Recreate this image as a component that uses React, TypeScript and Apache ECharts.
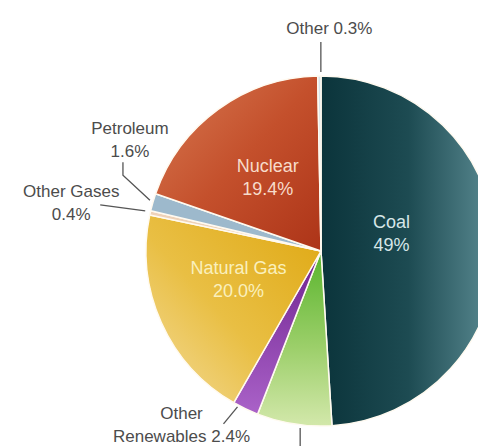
import React, { useEffect, useRef } from 'react';
import * as echarts from 'echarts';

// ---- Data ----
const categories = ['Coal', 'Hydroelectric', 'Other Renewables', 'Natural Gas', 'Other Gases', 'Petroleum', 'Nuclear', 'Other'];
const shares = [49, 6.9, 2.4, 20.0, 0.4, 1.6, 19.4, 0.3];
const labelNames = ['Coal', '', 'Other\nRenewables', 'Natural Gas', 'Other Gases', 'Petroleum', 'Nuclear', 'Other'];
const shareLabels = ['49%', '', '2.4%', '20.0%', '0.4%', '1.6%', '19.4%', '0.3%'];
const nameSeparators = ['\n', '', ' ', '\n', '\n', '\n', '\n', ' '];

// ---- Styling ----
const CX = 321;
const CY = 251;
const R = 175;

const lin = (x: number, y: number, x2: number, y2: number, stops: [number, string][]) =>
  new echarts.graphic.LinearGradient(x, y, x2, y2, stops.map(([offset, color]) => ({ offset, color })));

const sliceColors: any[] = [
  lin(0, 0, 1, 0, [[0, '#0b343b'], [0.5, '#1d4b52'], [1, '#5c8c94']]),
  lin(0, 0, 0, 1, [[0, '#58b42c'], [0.55, '#9ccf6a'], [1, '#d3e8ab']]),
  lin(0, 0, 0, 1, [[0, '#6f2390'], [1, '#aa62c8']]),
  lin(1, 0, 0, 1, [[0, '#dfa812'], [0.55, '#e9bf44'], [1, '#f4dc9c']]),
  '#efd2b8',
  '#9db9cc',
  lin(0, 0, 1, 1, [[0, '#d87a52'], [0.5, '#c4502c'], [1, '#ad3418']]),
  '#d6e5ec',
];

const insideLabels: Record<string, { color: string; offset: number[] }> = {
  Coal: { color: '#d6e6e8', offset: [-20, -15] },
  Nuclear: { color: '#f7dccb', offset: [0, 0] },
  'Natural Gas': { color: '#faf0bd', offset: [0, -8] },
};

// label guide positions, relative to the slice's outer-edge point
const outsideLayout: Record<string, { line: number[][]; label: number[] }> = {
  Other: { line: [[1.5, -4], [1.5, -34]], label: [10, -48] },
  Petroleum: { line: [[-3, -2], [-30, -27], [-30, -40]], label: [-23, -62] },
  'Other Gases': { line: [[-5, -2], [-50, -8]], label: [-79, -10] },
  'Other Renewables': { line: [[-8, -2], [-22, 15]], label: [-64, 16] },
  Hydroelectric: { line: [[6, 4], [6, 40]], label: [6, 40] },
};

const total = shares.reduce((a, b) => a + b, 0);
function edgePoint(i: number): number[] {
  let before = 0;
  for (let k = 0; k < i; k++) before += shares[k];
  const mid = ((before + shares[i] / 2) / total) * 2 * Math.PI;
  return [CX + R * Math.sin(mid), CY - R * Math.cos(mid)];
}

export default function App() {
  const ref = useRef<HTMLDivElement>(null);

  useEffect(() => {
    if (!ref.current) return;
    const chart = echarts.init(ref.current, null, { renderer: 'svg' });

    const data = categories.map((name, i) => {
      const inside = insideLabels[name];
      const item: any = {
        name,
        value: shares[i],
        itemStyle: { color: sliceColors[i] },
      };
      if (inside) {
        item.label = {
          position: 'inside',
          color: inside.color,
          fontSize: 18,
          lineHeight: 23,
          offset: inside.offset,
        };
        item.labelLine = { show: false };
      }
      return item;
    });

    const option: any = {
      animation: false,
      backgroundColor: '#ffffff',
      series: [
        {
          type: 'pie',
          center: [CX, CY],
          radius: R,
          startAngle: 90,
          clockwise: true,
          avoidLabelOverlap: false,
          itemStyle: { borderColor: '#fffaf0', borderWidth: 1.5 },
          emphasis: { disabled: true },
          label: {
            show: true,
            position: 'outside',
            formatter: (p: any) => labelNames[p.dataIndex] + nameSeparators[p.dataIndex] + shareLabels[p.dataIndex],
            fontFamily: '"Liberation Sans", Arial, sans-serif',
            fontSize: 17,
            lineHeight: 23,
            color: '#4c4c4c',
            align: 'center',
          },
          labelLine: {
            show: true,
            length: 20,
            length2: 10,
            lineStyle: { color: '#555555', width: 1.3 },
          },
          labelLayout: (params: any) => {
            const name = categories[params.dataIndex];
            const spec = outsideLayout[name];
            if (!spec) return {};
            const p0 =
              params.labelLinePoints && params.labelLinePoints[0]
                ? params.labelLinePoints[0]
                : edgePoint(params.dataIndex);
            return {
              x: p0[0] + spec.label[0],
              y: p0[1] + spec.label[1],
              align: 'center',
              verticalAlign: 'middle',
              labelLinePoints: spec.line.map((d) => [p0[0] + d[0], p0[1] + d[1]]),
            };
          },
          data,
        },
      ],
    };

    chart.setOption(option);
    return () => chart.dispose();
  }, []);

  return (
    <div
      ref={ref}
      style={{ position: 'fixed', left: 0, top: 0, width: 478, height: 446, background: '#fff' }}
    />
  );
}
